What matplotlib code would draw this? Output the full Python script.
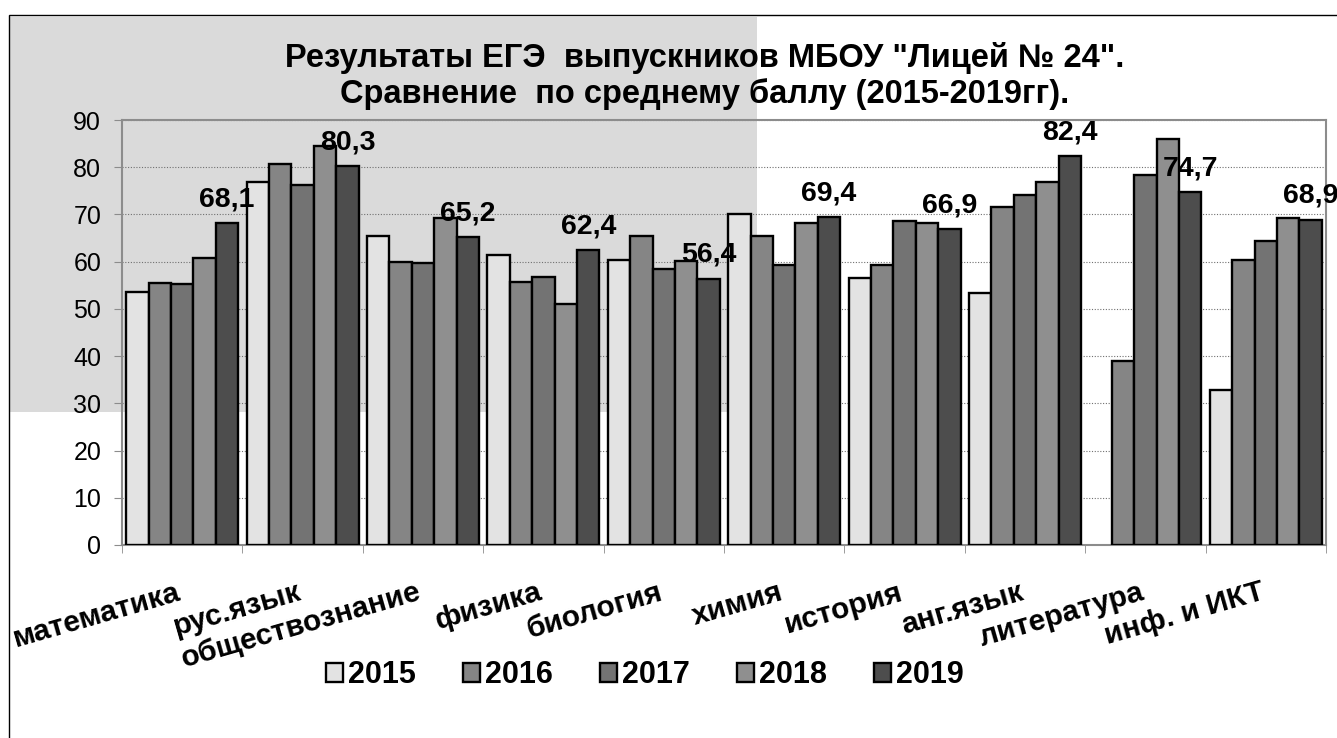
import numpy as np
import matplotlib
matplotlib.use("Agg")
import matplotlib.pyplot as plt
from matplotlib.patches import Rectangle

plt.rcParams['font.family'] = ['Liberation Sans', 'DejaVu Sans']

# Данные
subjects = ['математика', 'рус.язык', 'обществознание', 'физика', 'биология',
            'химия', 'история', 'анг.язык', 'литература', 'инф. и ИКТ']
years = ['2015', '2016', '2017', '2018', '2019']
y2015 = [53.6, 76.9, 65.5, 61.5, 60.4, 70.2, 56.5, 53.4, np.nan, 32.9]
y2016 = [55.5, 80.7, 59.9, 55.7, 65.5, 65.5, 59.2, 71.6, 38.9, 60.4]
y2017 = [55.2, 76.3, 59.7, 56.8, 58.5, 59.4, 68.6, 74.2, 78.3, 64.3]
y2018 = [60.7, 84.4, 69.3, 51.1, 60.1, 68.2, 68.1, 76.9, 86.0, 69.3]
y2019 = [68.1, 80.3, 65.2, 62.4, 56.4, 69.4, 66.9, 82.4, 74.7, 68.9]
series = [y2015, y2016, y2017, y2018, y2019]
colors = ['#e3e3e3', '#858585', '#737373', '#8f8f8f', '#4d4d4d']

fig = plt.figure(figsize=(13.37, 7.38), dpi=100)

# фон-текстура (упрощённо) и рамка диаграммы
fig.add_artist(Rectangle((10/1337, 1-412/738), 747/1337, 395/738,
                         transform=fig.transFigure, facecolor='#dadada',
                         edgecolor='none', zorder=-10))
fig.add_artist(Rectangle((9/1337, -0.1), 2, 1-15/738+0.1,
                         transform=fig.transFigure, fill=False,
                         edgecolor='black', linewidth=1, zorder=-5))

ax = fig.add_axes([122/1337, 1-545/738, 1204/1337, 425/738])
ax.set_facecolor('none')

x = np.arange(len(subjects))
w = 0.186
for j, (yr, vals) in enumerate(zip(years, series)):
    bars = ax.bar(x + (j-2)*w, vals, w, color=colors[j], edgecolor='black',
                  linewidth=1.7, label=yr, zorder=3)
    if yr == '2019':
        for xi, v in zip(x + (j-2)*w, vals):
            ax.annotate(f'{v:.1f}'.replace('.', ','), (xi, v), xytext=(0, 12),
                        textcoords='offset points', ha='center', va='baseline',
                        fontsize=20.5, fontweight='bold', zorder=4)

ax.set_xlim(-0.5, len(subjects)-0.5)
ax.set_ylim(0, 90)
ax.set_yticks(range(0, 91, 10))
ax.grid(axis='y', linestyle=(0, (1, 1.5)), color='#707070', linewidth=0.8, zorder=1)

for s in ax.spines.values():
    s.set_color('#8c8c8c')
    s.set_linewidth(1.5)

ax.tick_params(axis='y', length=6, color='#8c8c8c', labelsize=18, pad=9)
ax.set_xticks(x)
ax.set_xticks(np.arange(-0.5, len(subjects)), minor=True)
ax.tick_params(axis='x', which='major', length=0, pad=39)
ax.tick_params(axis='x', which='minor', length=6, color='#8c8c8c')
ax.set_xticklabels(subjects, rotation=16, ha='right', va='baseline',
                   rotation_mode='anchor', fontsize=21.5, fontweight='bold')

fig.text(705/1337, 1-42/738,
         'Результаты ЕГЭ  выпускников МБОУ "Лицей № 24".\nСравнение  по среднему баллу (2015-2019гг).',
         ha='center', va='top', fontsize=23.5, fontweight='bold', linespacing=1.15)

ax.legend(loc='center', bbox_to_anchor=(645/1337, 1-675/738),
          bbox_transform=fig.transFigure, ncol=5, frameon=False,
          prop={'size': 22, 'weight': 'bold'}, handlelength=0.56,
          handleheight=0.56, handletextpad=0.16, columnspacing=1.54)

plt.savefig('out.png', dpi=100)
